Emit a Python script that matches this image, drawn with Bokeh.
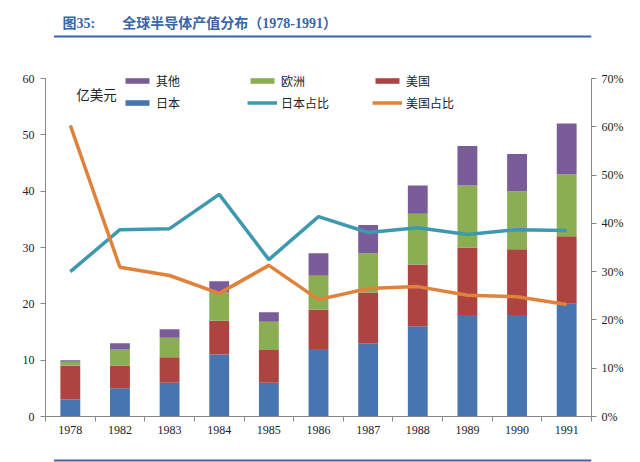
from bokeh.plotting import figure
from bokeh.models import (ColumnDataSource, Range1d, LinearAxis, FixedTicker,
                          NumeralTickFormatter, Legend, LegendItem, Label)
from bokeh.layouts import column
from bokeh.core.properties import value
from bokeh.embed import file_html
from bokeh.resources import INLINE

# ---- data ----
years = ["1978", "1982", "1983", "1984", "1985", "1986", "1987", "1988", "1989", "1990", "1991"]
japan = [3, 5, 6, 11, 6, 12, 13, 16, 18, 18, 20]
usa = [6, 4, 4.5, 6, 5.8, 7, 9, 11, 12, 11.7, 12]
europe = [0.7, 3, 3.5, 5, 5, 6, 7, 9, 11, 10.3, 11]
other = [0.3, 1, 1.5, 2, 1.7, 4, 5, 5, 7, 6.6, 9]
japan_share = [0.300, 0.387, 0.389, 0.460, 0.325, 0.414, 0.381, 0.391, 0.377, 0.387, 0.385]
usa_share = [0.603, 0.309, 0.292, 0.255, 0.313, 0.242, 0.265, 0.269, 0.251, 0.248, 0.232]
left_ticks = [0, 10, 20, 30, 40, 50, 60]
right_ticks = [0, 0.1, 0.2, 0.3, 0.4, 0.5, 0.6, 0.7]

C_JP = "#4675B0"
C_US = "#AE4442"
C_EU = "#8CAE52"
C_OT = "#7A5C99"
C_JPS = "#3E98AF"
C_USS = "#E0823A"
TITLE_BLUE = "#3A66A8"
AX = "#888888"
SERIF = "Liberation Serif"
CJK = "Noto Sans CJK SC"

W = 640
H_HDR, H_MAIN, H_FTR = 38, 414, 10

# ---- header ----
hdr = figure(width=W, height=H_HDR, x_range=Range1d(0, W), y_range=Range1d(H_HDR, 0),
             toolbar_location=None, output_backend="svg", min_border=0)
hdr.axis.visible = False
hdr.grid.visible = False
hdr.outline_line_color = None
hdr.text(x=[20], y=[23], text=["图35:"], text_font=value(SERIF + ", " + CJK),
         text_font_size="14px", text_font_style="bold", text_color=TITLE_BLUE,
         text_baseline="middle", text_align="left")
hdr.text(x=[90], y=[23], text=["全球半导体产值分布（1978-1991）"], text_font=value(SERIF + ", " + CJK),
         text_font_size="14px", text_font_style="bold", text_color=TITLE_BLUE,
         text_baseline="middle", text_align="left")
hdr.segment(x0=[10], y0=[36], x1=[W], y1=[36], line_color=TITLE_BLUE, line_width=2)

# ---- main chart ----
src = ColumnDataSource(dict(x=list(range(len(years))), japan=japan, usa=usa,
                            europe=europe, other=other,
                            js=japan_share, us=usa_share))

# frame is a little taller than the 0-60 axis so the legend's first row is not clipped
TOP_PAD = 348 / 338
p = figure(width=W, height=H_MAIN, x_range=Range1d(-0.5, len(years) - 0.5),
           y_range=Range1d(0, 60 * TOP_PAD), toolbar_location=None, output_backend="svg",
           min_border_left=45, min_border_right=49, min_border_top=30, min_border_bottom=36)
p.extra_y_ranges = {"pct": Range1d(0, 0.7 * TOP_PAD)}
p.grid.visible = False
p.outline_line_color = None

bars = p.vbar_stack(["japan", "usa", "europe", "other"], x="x", width=0.4, source=src,
                    color=[C_JP, C_US, C_EU, C_OT], line_color=None)
l_jp = p.line("x", "js", source=src, y_range_name="pct", line_color=C_JPS, line_width=3.5)
l_us = p.line("x", "us", source=src, y_range_name="pct", line_color=C_USS, line_width=3.5)

# axes
xa = p.xaxis[0]
xa.ticker = FixedTicker(ticks=list(range(len(years))),
                        minor_ticks=[i - 0.5 for i in range(len(years) + 1)])
xa.major_label_overrides = {i: y for i, y in enumerate(years)}
xa.major_tick_line_color = None
xa.major_tick_out = 5
xa.major_tick_in = 0
xa.minor_tick_line_color = AX
xa.minor_tick_out = 5
xa.minor_tick_in = 0
xa.axis_line_color = AX
xa.major_label_standoff = 4
xa.major_label_text_font = SERIF
xa.major_label_text_font_size = "12px"
xa.major_label_text_color = "#222222"

ya = p.yaxis[0]
ya.ticker = FixedTicker(ticks=left_ticks)
ya.bounds = (0, 60)
ya.minor_tick_line_color = None
ya.major_tick_line_color = AX
ya.major_tick_out = 5
ya.major_tick_in = 0
ya.axis_line_color = AX
ya.major_label_standoff = 6
ya.major_label_text_font = SERIF
ya.major_label_text_font_size = "12px"
ya.major_label_text_color = "#222222"

ra = LinearAxis(y_range_name="pct", ticker=FixedTicker(ticks=right_ticks),
                formatter=NumeralTickFormatter(format="0%"), bounds=(0, 0.7))
ra.minor_tick_line_color = None
ra.major_tick_line_color = AX
ra.major_tick_out = 5
ra.major_tick_in = 0
ra.axis_line_color = AX
ra.major_label_standoff = 5
ra.major_label_text_font = SERIF
ra.major_label_text_font_size = "12px"
ra.major_label_text_color = "#222222"
p.add_layout(ra, "right")

# legends
def make_legend(items, loc):
    lg = Legend(items=items, location=loc, orientation="horizontal",
                glyph_width=30, glyph_height=7, label_standoff=4, label_width=90,
                label_height=16, spacing=1, padding=0, margin=0,
                label_text_font=CJK, label_text_font_size="12px",
                label_text_color="#222222", border_line_color=None,
                background_fill_alpha=0)
    p.add_layout(lg)

make_legend([LegendItem(label="其他", renderers=[bars[3]]),
             LegendItem(label="欧洲", renderers=[bars[2]]),
             LegendItem(label="美国", renderers=[bars[1]])], (77, 327))
make_legend([LegendItem(label="日本", renderers=[bars[0]]),
             LegendItem(label="日本占比", renderers=[l_jp]),
             LegendItem(label="美国占比", renderers=[l_us])], (77, 305))

p.add_layout(Label(x=0.12, y=57.3, text="亿美元", text_font=CJK, text_font_size="13.5px",
                   text_color="#222222", text_baseline="middle", text_align="left"))

# ---- footer ----
ftr = figure(width=W, height=H_FTR, x_range=Range1d(0, W), y_range=Range1d(H_FTR, 0),
             toolbar_location=None, output_backend="svg", min_border=0)
ftr.axis.visible = False
ftr.grid.visible = False
ftr.outline_line_color = None
ftr.segment(x0=[10], y0=[6], x1=[W], y1=[6], line_color=TITLE_BLUE, line_width=2)

layout = column(hdr, p, ftr, spacing=0)
open("out.html", "w").write(file_html(layout, INLINE))
